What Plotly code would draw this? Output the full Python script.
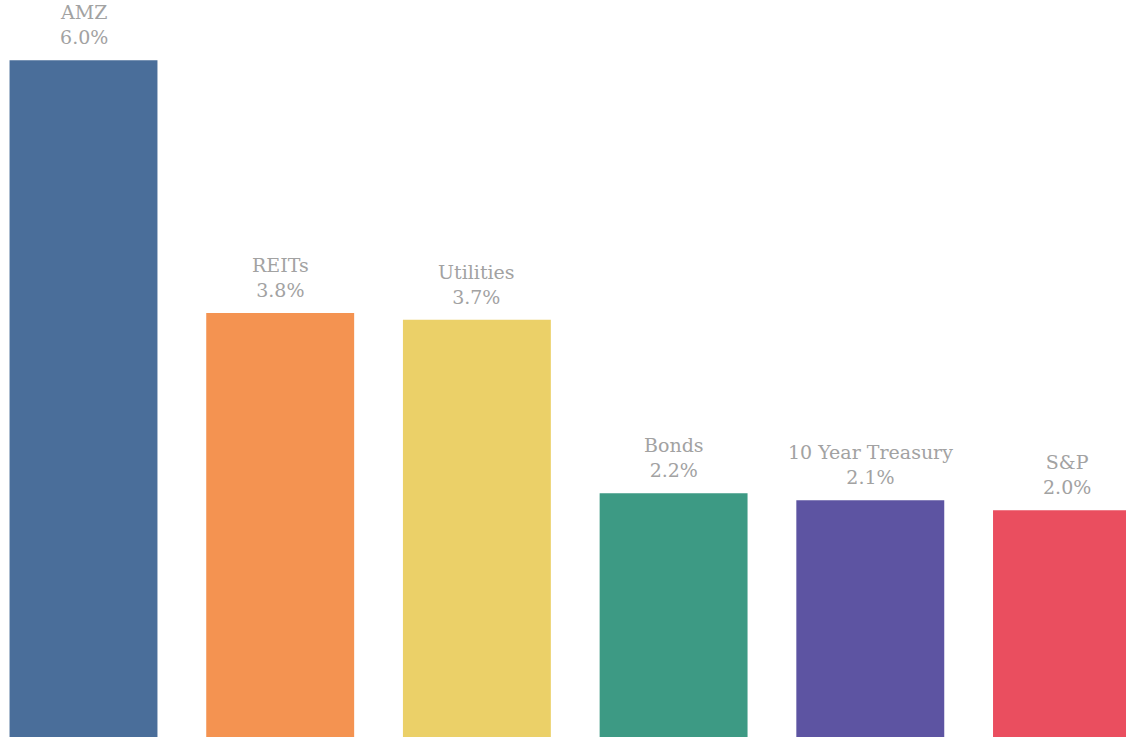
import plotly.graph_objects as go

categories = ["AMZ", "REITs", "Utilities", "Bonds", "10 Year Treasury", "S&P"]
values = [6.00, 3.76, 3.70, 2.16, 2.10, 2.01]
colors = ["#4a6e9a", "#f49351", "#ebd068", "#3d9a84", "#5d54a2", "#ea4e5f"]

fig = go.Figure(go.Bar(
    x=categories,
    y=values,
    marker=dict(color=colors, line=dict(width=0)),
    width=0.752,
    hoverinfo="skip",
))

for c, v in zip(categories, values):
    fig.add_annotation(
        x=c, y=v, xref="x", yref="y",
        text=f"{c}<br>{v:.1f}%",
        showarrow=False, yanchor="bottom", yshift=10,
        font=dict(family="DejaVu Serif, serif", size=19, color="#a2a2a2"),
    )

fig.update_layout(
    width=1126, height=737,
    margin=dict(l=0, r=0, t=0, b=0, autoexpand=False),
    paper_bgcolor="white", plot_bgcolor="white",
    showlegend=False,
    xaxis=dict(visible=False, range=[-0.4245, 5.300]),
    yaxis=dict(visible=False, range=[0, 6.534]),
)

fig.write_html(
    "out.html",
    config={"displayModeBar": False, "staticPlot": True},
    post_script="document.body.style.margin='0';document.body.style.overflow='hidden';",
)
